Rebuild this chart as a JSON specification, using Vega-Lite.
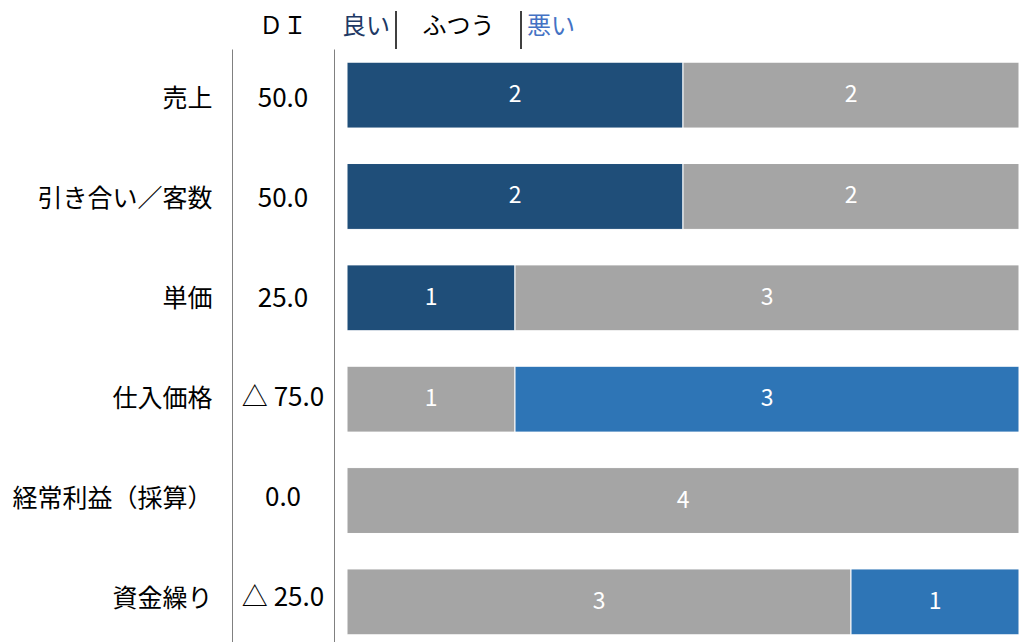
{
  "$schema": "https://vega.github.io/schema/vega-lite/v6.json",
  "background": "white",
  "padding": {"left": 11, "top": 10, "right": 0, "bottom": 0},
  "config": {
    "view": {"stroke": null},
    "font": "Noto Sans CJK JP",
    "text": {"font": "Noto Sans CJK JP"}
  },
  "datasets": {
    "summary": [
      {"項目": "売上", "DI": "50.0"},
      {"項目": "引き合い／客数", "DI": "50.0"},
      {"項目": "単価", "DI": "25.0"},
      {"項目": "仕入価格", "DI": "△ 75.0"},
      {"項目": "経常利益（採算）", "DI": "0.0"},
      {"項目": "資金繰り", "DI": "△ 25.0"}
    ],
    "counts": [
      {"項目": "売上", "回答": "良い", "順": 1, "件数": 2},
      {"項目": "売上", "回答": "ふつう", "順": 2, "件数": 2},
      {"項目": "引き合い／客数", "回答": "良い", "順": 1, "件数": 2},
      {"項目": "引き合い／客数", "回答": "ふつう", "順": 2, "件数": 2},
      {"項目": "単価", "回答": "良い", "順": 1, "件数": 1},
      {"項目": "単価", "回答": "ふつう", "順": 2, "件数": 3},
      {"項目": "仕入価格", "回答": "ふつう", "順": 2, "件数": 1},
      {"項目": "仕入価格", "回答": "悪い", "順": 3, "件数": 3},
      {"項目": "経常利益（採算）", "回答": "ふつう", "順": 2, "件数": 4},
      {"項目": "資金繰り", "回答": "ふつう", "順": 2, "件数": 3},
      {"項目": "資金繰り", "回答": "悪い", "順": 3, "件数": 1}
    ],
    "header": [
      {"見出し": "良い"},
      {"見出し": "ふつう"},
      {"見出し": "悪い"}
    ],
    "dihead": [
      {"見出し": "ＤＩ"}
    ]
  },
  "bounds": "full",
  "spacing": 0,
  "hconcat": [
    {
      "bounds": "flush",
      "spacing": 0,
      "vconcat": [
        {
          "width": 102,
          "height": 38,
          "data": {"name": "dihead"},
          "mark": {"type": "text", "fontSize": 24, "color": "black", "dy": -3},
          "encoding": {"text": {"field": "見出し", "type": "nominal"}}
        },
        {
          "width": 102,
          "height": 599,
          "data": {"name": "summary"},
          "mark": {"type": "text", "fontSize": 26, "color": "black"},
          "encoding": {
            "y": {
              "field": "項目", "type": "nominal",
              "sort": ["売上", "引き合い／客数", "単価", "仕入価格", "経常利益（採算）", "資金繰り"],
              "scale": {"paddingInner": 0.35, "paddingOuter": 0.13},
              "axis": {"title": null, "ticks": false, "labelFontSize": 25, "labelPadding": 20, "labelColor": "black", "labelLimit": 0, "domainColor": "#808080", "domainWidth": 1, "labelFont": "Noto Sans CJK JP"}
            },
            "text": {"field": "DI", "type": "nominal"}
          }
        }
      ]
    },
    {
      "bounds": "flush",
      "spacing": 0,
      "vconcat": [
        {
          "width": 672,
          "height": 38,
          "data": {"name": "header"},
          "encoding": {
            "x": {
              "field": "見出し", "type": "nominal", "sort": ["良い", "ふつう", "悪い"],
              "scale": {"range": [-76, 299], "paddingInner": 0, "paddingOuter": 0},
              "axis": null
            }
          },
          "layer": [
            {
              "transform": [{"filter": "datum['見出し'] != '良い'"}],
              "mark": {"type": "rule", "color": "#000000", "strokeWidth": 1.5},
              "encoding": {"x": {"field": "見出し", "type": "nominal", "sort": ["良い", "ふつう", "悪い"], "bandPosition": 0}}
            },
            {
              "transform": [{"filter": "datum['見出し'] == '良い'"}],
              "mark": {"type": "text", "fontSize": 24, "color": "#203864", "align": "right", "dx": -6, "dy": -3},
              "encoding": {"x": {"field": "見出し", "type": "nominal", "sort": ["良い", "ふつう", "悪い"], "bandPosition": 1}, "text": {"field": "見出し"}}
            },
            {
              "transform": [{"filter": "datum['見出し'] == 'ふつう'"}],
              "mark": {"type": "text", "fontSize": 24, "color": "#000000", "align": "center", "dy": -3},
              "encoding": {"x": {"field": "見出し", "type": "nominal", "sort": ["良い", "ふつう", "悪い"], "bandPosition": 0.5}, "text": {"field": "見出し"}}
            },
            {
              "transform": [{"filter": "datum['見出し'] == '悪い'"}],
              "mark": {"type": "text", "fontSize": 24, "color": "#4472C4", "align": "left", "dx": 6, "dy": -3},
              "encoding": {"x": {"field": "見出し", "type": "nominal", "sort": ["良い", "ふつう", "悪い"], "bandPosition": 0}, "text": {"field": "見出し"}}
            }
          ]
        },
        {
          "width": 672,
          "height": 599,
          "data": {"name": "counts"},
          "encoding": {
            "y": {
              "field": "項目", "type": "nominal",
              "sort": ["売上", "引き合い／客数", "単価", "仕入価格", "経常利益（採算）", "資金繰り"],
              "scale": {"paddingInner": 0.35, "paddingOuter": 0.13},
              "axis": {"title": null, "ticks": false, "labels": false, "offset": 13, "domainColor": "#808080", "domainWidth": 1}
            }
          },
          "layer": [
            {
              "mark": {"type": "bar", "stroke": "white", "strokeWidth": 1},
              "encoding": {
                "x": {"field": "件数", "type": "quantitative", "stack": "zero", "scale": {"domain": [0, 4], "nice": false}, "axis": null},
                "order": {"field": "順", "type": "quantitative"},
                "color": {
                  "field": "回答", "type": "nominal",
                  "scale": {"domain": ["良い", "ふつう", "悪い"], "range": ["#1F4E79", "#A5A5A5", "#2E75B6"]},
                  "legend": null
                }
              }
            },
            {
              "transform": [
                {"stack": "件数", "groupby": ["項目"], "sort": [{"field": "順"}], "as": ["x0", "x1"]},
                {"calculate": "(datum.x0 + datum.x1) / 2", "as": "中央"}
              ],
              "mark": {"type": "text", "color": "white", "fontSize": 23},
              "encoding": {
                "x": {"field": "中央", "type": "quantitative"},
                "text": {"field": "件数", "type": "quantitative"}
              }
            }
          ]
        }
      ]
    }
  ]
}
